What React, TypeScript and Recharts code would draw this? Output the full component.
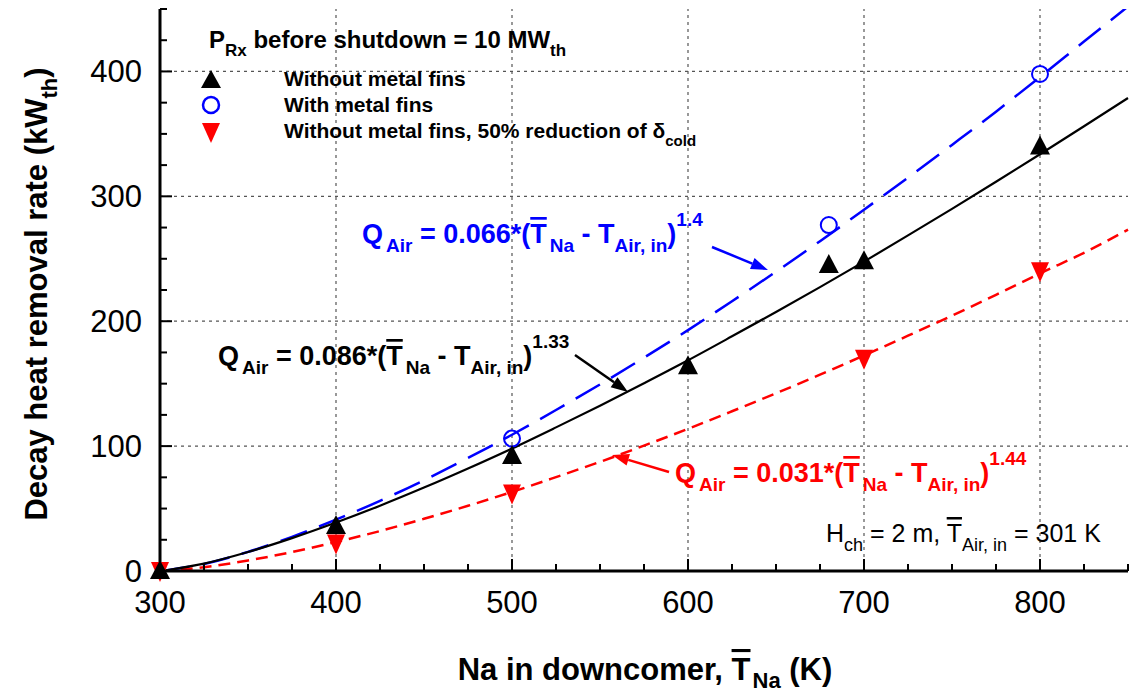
import React from "react";
import { ComposedChart, Line, Scatter, XAxis, YAxis, ReferenceLine } from "recharts";

// fitted curves, read every 25 K
const curveTemps = [301, 325, 350, 375, 400, 425, 450, 475, 500, 525, 550, 575, 600, 625, 650, 675, 700, 725, 750, 775, 800, 825, 850];
const fitNoFins = [0, 5.9, 15.2, 26.3, 38.8, 52.3, 66.8, 82.1, 98.1, 115.0, 132.3, 150.3, 168.7, 187.9, 207.4, 227.3, 247.7, 268.7, 290.0, 311.7, 333.7, 356.1, 378.7];
const fitWithFins = [0, 5.6, 15.3, 27.3, 41.1, 56.2, 72.7, 90.5, 109.1, 128.9, 149.4, 170.8, 192.9, 216.0, 239.6, 264.1, 289.3, 315.0, 341.2, 367.8, 395.6, 423.9, 452.0];
const fitReducedGap = [0, 3.0, 8.4, 15.2, 23.2, 32.0, 41.8, 52.2, 63.3, 75.2, 87.4, 100.4, 113.8, 127.9, 142.3, 157.2, 172.6, 188.4, 204.5, 221.1, 238.3, 254.8, 273.3];

// measured points
const tempNoFins = [300, 400, 500, 600, 680, 700, 800];
const heatNoFins = [0, 36, 92, 164, 245, 248, 340];
const tempWithFins = [500, 680, 800];
const heatWithFins = [106, 277, 398];
const tempReducedGap = [300, 400, 500, 700, 800];
const heatReducedGap = [0, 22, 62, 170, 240];

const xTicks = [300, 325, 350, 375, 400, 425, 450, 475, 500, 525, 550, 575, 600, 625, 650, 675, 700, 725, 750, 775, 800, 825, 850];
const yTicks = [0, 25, 50, 75, 100, 125, 150, 175, 200, 225, 250, 275, 300, 325, 350, 375, 400, 425, 450];
const xGrid = [400, 500, 600, 700, 800];
const yGrid = [100, 200, 300, 400];

const FONT = "'Liberation Sans', Arial, Helvetica, sans-serif";
const BLUE = "#0000ff";
const RED = "#ff0000";

const toPoints = (xs: number[], ys: number[]) => xs.map((x, i) => ({ x, y: ys[i] }));

const isMajor = (v: number) => v % 100 === 0;
const axisLine = { stroke: "#000", strokeWidth: 3 };

const BottomTick = ({ x, y, payload }: any) => (
  <g>
    <line x1={x} y1={y} x2={x} y2={y - (isMajor(payload.value) ? 12 : 7)} stroke="#000" strokeWidth={2} />
    {isMajor(payload.value) && (
      <text x={x} y={y + 42} textAnchor="middle" fontSize={31} fontFamily={FONT} fill="#000">
        {payload.value}
      </text>
    )}
  </g>
);

const TopTick = ({ x, y, payload }: any) => (
  <line x1={x} y1={y} x2={x} y2={y + (isMajor(payload.value) ? 12 : 7)} stroke="#000" strokeWidth={2} />
);

const LeftTick = ({ x, y, payload }: any) => (
  <g>
    <line x1={x} y1={y} x2={x + (isMajor(payload.value) ? 12 : 7)} y2={y} stroke="#000" strokeWidth={2} />
    {isMajor(payload.value) && (
      <text x={x - 18} y={y + 11} textAnchor="end" fontSize={31} fontFamily={FONT} fill="#000">
        {payload.value}
      </text>
    )}
  </g>
);

const RightTick = ({ x, y, payload }: any) => (
  <line x1={x} y1={y} x2={x - (isMajor(payload.value) ? 12 : 7)} y2={y} stroke="#000" strokeWidth={2} />
);

const UpTriangle = ({ cx, cy }: any) => (
  <polygon points={`${cx},${cy - 11} ${cx - 10},${cy + 8} ${cx + 10},${cy + 8}`} fill="#000" />
);
const DownTriangle = ({ cx, cy }: any) => (
  <polygon points={`${cx - 9},${cy - 9} ${cx + 9},${cy - 9} ${cx},${cy + 11}`} fill={RED} />
);
const OpenCircle = ({ cx, cy }: any) => (
  <circle cx={cx} cy={cy} r={8} fill="none" stroke={BLUE} strokeWidth={2} />
);

const Arrow = ({ from, to, color }: { from: number[]; to: number[]; color: string }) => {
  const [x1, y1] = from;
  const [x2, y2] = to;
  const a = Math.atan2(y2 - y1, x2 - x1);
  const L = 17;
  const W = 6;
  const bx = x2 - L * Math.cos(a);
  const by = y2 - L * Math.sin(a);
  const s = Math.sin(a);
  const c = Math.cos(a);
  return (
    <g>
      <line x1={x1} y1={y1} x2={bx} y2={by} stroke={color} strokeWidth={2.5} />
      <polygon points={`${x2},${y2} ${bx + W * s},${by - W * c} ${bx - W * s},${by + W * c}`} fill={color} />
    </g>
  );
};

const Equation = ({ x, y, color, coef, exp, size }: any) => {
  const sub = Math.round(size * 0.72);
  return (
    <text x={x} y={y} fill={color} fontSize={size} fontWeight="bold" fontFamily={FONT}>
      Q<tspan dx={3} dy={9} fontSize={sub}>Air</tspan>
      <tspan dy={-9}>{` = ${coef}*(`}</tspan>
      <tspan style={{ textDecoration: "overline" }}>T</tspan>
      <tspan dx={3} dy={9} fontSize={sub}>Na</tspan>
      <tspan dy={-9}>{" - T"}</tspan>
      <tspan dy={9} fontSize={sub}>{"Air, in"}</tspan>
      <tspan dy={-9}>)</tspan>
      <tspan dy={-17} fontSize={sub}>{exp}</tspan>
    </text>
  );
};

const Overlay = () => (
  <svg width={1133} height={694} style={{ position: "absolute", left: 0, top: 0, pointerEvents: "none" }}>
    {/* legend */}
    <text x={209} y={48} fontSize={24} fontWeight="bold" fontFamily={FONT}>
      P<tspan dy={8} fontSize={17}>Rx</tspan>
      <tspan dy={-8}> before shutdown = 10 MW</tspan>
      <tspan dy={8} fontSize={17}>th</tspan>
    </text>
    <polygon points="211,70 201,88 221,88" fill="#000" />
    <circle cx={211} cy={105} r={8} fill="none" stroke={BLUE} strokeWidth={2.5} />
    <polygon points="202,123 220,123 211,143" fill={RED} />
    <text x={284} y={86} fontSize={21} fontWeight="bold" fontFamily={FONT}>Without metal fins</text>
    <text x={284} y={112} fontSize={21} fontWeight="bold" fontFamily={FONT}>With metal fins</text>
    <text x={284} y={138} fontSize={21} fontWeight="bold" fontFamily={FONT}>
      Without metal fins, 50% reduction of δ<tspan dy={8} fontSize={15}>cold</tspan>
    </text>

    {/* fit equations */}
    <Equation x={362} y={243} color={BLUE} coef="0.066" exp="1.4" size={27} />
    <Arrow from={[712, 247]} to={[768, 270]} color={BLUE} />
    <Equation x={218} y={365} color="#000" coef="0.086" exp="1.33" size={27} />
    <Arrow from={[575, 355]} to={[628, 392]} color="#000" />
    <Equation x={675} y={482} color={RED} coef="0.031" exp="1.44" size={27} />
    <Arrow from={[669, 472]} to={[612, 455]} color={RED} />

    {/* conditions */}
    <text x={826} y={542} fontSize={25} fontFamily={FONT}>
      H<tspan dy={9} fontSize={18}>ch</tspan>
      <tspan dy={-9}> = 2 m, </tspan>
      <tspan style={{ textDecoration: "overline" }}>T</tspan>
      <tspan dy={9} fontSize={18}>Air, in</tspan>
      <tspan dy={-9}> = 301 K</tspan>
    </text>

    {/* axis titles */}
    <text x={645} y={680} textAnchor="middle" fontSize={31} fontWeight="bold" fontFamily={FONT}>
      Na in downcomer, <tspan style={{ textDecoration: "overline" }}>T</tspan>
      <tspan dx={2} dy={8} fontSize={22}>Na</tspan>
      <tspan dy={-8}> (K)</tspan>
    </text>
    <text
      x={47}
      y={294}
      textAnchor="middle"
      fontSize={31}
      fontWeight="bold"
      fontFamily={FONT}
      transform="rotate(-90 47 294)"
    >
      Decay heat removal rate (kW<tspan dy={10} fontSize={22}>th</tspan>
      <tspan dy={-10}>)</tspan>
    </text>
  </svg>
);

export default function App() {
  return (
    <div style={{ position: "absolute", left: 0, top: 0, width: 1133, height: 694, background: "#fff" }}>
      <ComposedChart width={1133} height={694} margin={{ top: 9, right: 5, bottom: 0, left: 0 }}>
        <XAxis
          xAxisId="b"
          dataKey="x"
          type="number"
          domain={[300, 850]}
          ticks={xTicks}
          interval={0}
          height={123}
          tickSize={0}
          tickMargin={0}
          tick={BottomTick}
          axisLine={axisLine}
        />
        <XAxis
          xAxisId="t"
          orientation="top"
          type="number"
          domain={[300, 850]}
          ticks={xTicks}
          interval={0}
          height={0}
          tickSize={0}
          tickMargin={0}
          tick={TopTick}
          axisLine={axisLine}
        />
        <YAxis
          yAxisId="l"
          dataKey="y"
          type="number"
          domain={[0, 450]}
          ticks={yTicks}
          interval={0}
          width={160}
          tickSize={0}
          tickMargin={0}
          tick={LeftTick}
          axisLine={axisLine}
        />
        <YAxis
          yAxisId="r"
          orientation="right"
          type="number"
          domain={[0, 450]}
          ticks={yTicks}
          interval={0}
          width={0}
          tickSize={0}
          tickMargin={0}
          tick={RightTick}
          axisLine={axisLine}
          allowDataOverflow
        />
        {xGrid.map((v) => (
          <ReferenceLine key={`gx${v}`} x={v} xAxisId="b" yAxisId="l" stroke="#555" strokeDasharray="3 4" strokeWidth={1.2} />
        ))}
        {yGrid.map((v) => (
          <ReferenceLine key={`gy${v}`} y={v} xAxisId="b" yAxisId="l" stroke="#555" strokeDasharray="3 4" strokeWidth={1.2} />
        ))}
        <Line
          xAxisId="b"
          yAxisId="r"
          data={toPoints(curveTemps, fitWithFins)}
          dataKey="y"
          type="monotone"
          stroke={BLUE}
          strokeWidth={2.5}
          strokeDasharray="28 13"
          dot={false}
          isAnimationActive={false}
        />
        <Line
          xAxisId="b"
          yAxisId="l"
          data={toPoints(curveTemps, fitReducedGap)}
          dataKey="y"
          type="monotone"
          stroke={RED}
          strokeWidth={2.5}
          strokeDasharray="12 7"
          dot={false}
          isAnimationActive={false}
        />
        <Line
          xAxisId="b"
          yAxisId="l"
          data={toPoints(curveTemps, fitNoFins)}
          dataKey="y"
          type="monotone"
          stroke="#000"
          strokeWidth={2.2}
          dot={false}
          isAnimationActive={false}
        />
        <Scatter
          xAxisId="b"
          yAxisId="l"
          data={toPoints(tempReducedGap, heatReducedGap)}
          dataKey="y"
          shape={DownTriangle}
          isAnimationActive={false}
        />
        <Scatter
          xAxisId="b"
          yAxisId="l"
          data={toPoints(tempWithFins, heatWithFins)}
          dataKey="y"
          shape={OpenCircle}
          isAnimationActive={false}
        />
        <Scatter
          xAxisId="b"
          yAxisId="l"
          data={toPoints(tempNoFins, heatNoFins)}
          dataKey="y"
          shape={UpTriangle}
          isAnimationActive={false}
        />
      </ComposedChart>
      <Overlay />
    </div>
  );
}
